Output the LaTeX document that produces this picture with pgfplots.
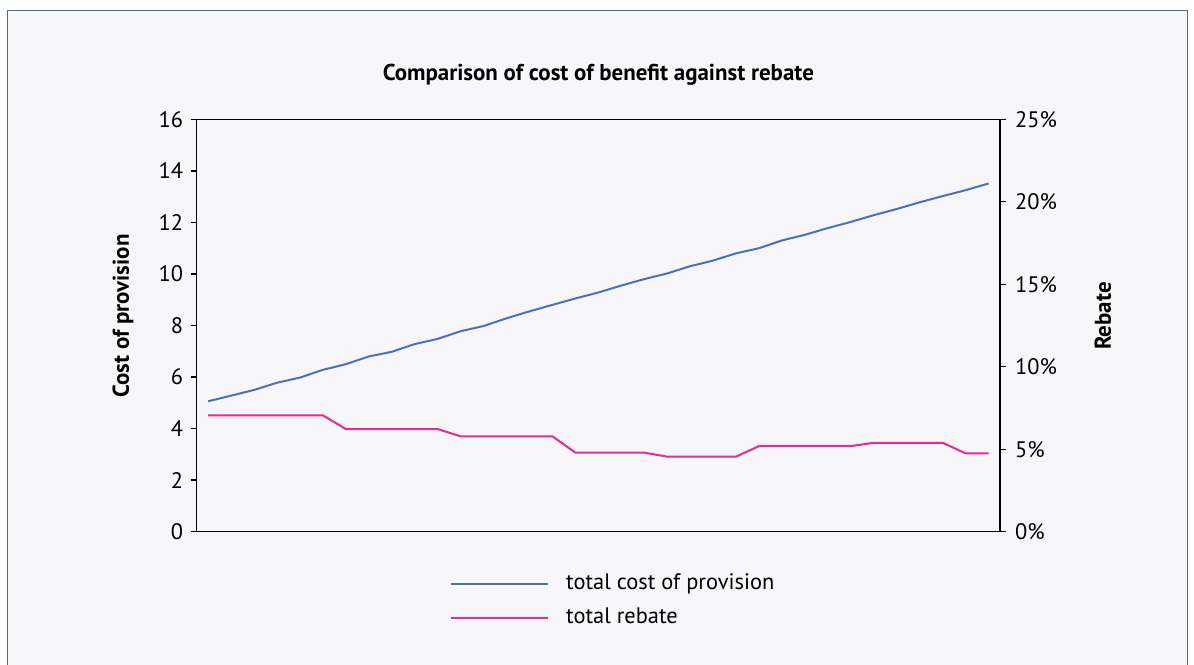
\documentclass[border=0pt]{standalone}
\usepackage{fontspec}
\setmainfont{PT Sans}
\usepackage{pgfplots}
\pgfplotsset{compat=1.18}
\definecolor{bg}{HTML}{F7F7F9}
\definecolor{framec}{HTML}{3D6FA6}
\definecolor{lblue}{HTML}{4672C2}
\definecolor{lpink}{HTML}{EA2A8E}
\begin{document}
\begin{tikzpicture}[x=1bp,y=1bp]
\useasboundingbox (0,0) rectangle (1194,-665);
\fill[white] (0,0) rectangle (1194,-665);
\fill[bg] (7.5,-10.5) rectangle (1187,-675);
\draw[framec, line width=1bp] (7.5,-10.5) rectangle (1187,-675);
\begin{axis}[
  at={(196.7bp,-531.7bp)}, anchor=south west,
  width=803.3bp, height=412.4bp, scale only axis,
  xmin=-0.5, xmax=34.5, ymin=0, ymax=16,
  xtick=\empty, ytick={0,2,...,16},
  ytick pos=left, tick align=outside,
  major tick length=6bp,
  axis line style={line width=1.4bp, black},
  every tick/.style={line width=1.4bp, black},
  tick label style={font=\fontsize{22.5}{26}\selectfont, text=black, inner sep=0pt},
  yticklabel style={xshift=-7.5bp},
  /pgf/number format/assume math mode=true,
  ylabel={\textbf{Cost of provision}},
  ylabel style={at={(axis description cs:-0.0917,0.523)}, anchor=center, font=\fontsize{23}{26}\selectfont},
  title={\textbf{Comparison of cost of benefit against rebate}},
  title style={at={(axis description cs:0.5,1.0807)}, anchor=base, font=\fontsize{23}{26}\selectfont},
]
\addplot[lblue, line width=2bp] coordinates {
(0,5.06) (1,5.28) (2,5.50) (3,5.78) (4,5.98) (5,6.28) (6,6.50) (7,6.80) (8,6.98) (9,7.28)
(10,7.48) (11,7.78) (12,7.98) (13,8.28) (14,8.55) (15,8.80) (16,9.05) (17,9.28) (18,9.55) (19,9.80)
(20,10.02) (21,10.30) (22,10.52) (23,10.80) (24,11.00) (25,11.30) (26,11.52) (27,11.78) (28,12.02) (29,12.28)
(30,12.52) (31,12.78) (32,13.02) (33,13.25) (34,13.51)
};
\end{axis}
\begin{axis}[
  at={(196.7bp,-531.7bp)}, anchor=south west,
  width=803.3bp, height=412.4bp, scale only axis,
  xmin=-0.5, xmax=34.5, ymin=0, ymax=25,
  hide x axis, axis y line*=right,
  ytick={0,5,...,25}, yticklabel={\pgfmathprintnumber{\tick}\%},
  tick align=outside, major tick length=6bp,
  axis line style={line width=1.4bp, black, -},
  every tick/.style={line width=1.4bp, black},
  tick label style={font=\fontsize{22.5}{26}\selectfont, text=black, inner sep=0pt},
  yticklabel style={xshift=9bp},
  /pgf/number format/assume math mode=true,
  ylabel={\textbf{Rebate}},
  ylabel style={at={(axis description cs:1.1282,0.523)}, anchor=center, rotate=0, font=\fontsize{23}{26}\selectfont},
  legend style={at={(axis description cs:0.3153,-0.1001)}, anchor=north west, draw=none, fill=none,
    inner sep=0pt, font=\fontsize{22.5}{26}\selectfont, row sep=13bp,
    nodes={inner sep=0pt, text height=16bp, text depth=5bp}},
  legend cell align=left,
  legend image code/.code={\draw[#1, line width=2bp] (0bp,0bp) -- (97bp,0bp);},
]
\addlegendimage{lblue}
\addlegendentry{\hspace{17bp}total cost of provision}
\addplot[lpink, line width=2bp] coordinates {
(0,7.05) (1,7.05) (2,7.05) (3,7.05) (4,7.05) (5,7.05)
(6,6.22) (7,6.22) (8,6.22) (9,6.22) (10,6.22)
(11,5.78) (12,5.78) (13,5.78) (14,5.78) (15,5.78)
(16,4.79) (17,4.79) (18,4.79) (19,4.79)
(20,4.55) (21,4.55) (22,4.55) (23,4.55)
(24,5.19) (25,5.19) (26,5.19) (27,5.19) (28,5.19)
(29,5.39) (30,5.39) (31,5.39) (32,5.39)
(33,4.75) (34,4.75)
};
\addlegendentry{\hspace{17bp}total rebate}
\end{axis}
\end{tikzpicture}
\end{document}
